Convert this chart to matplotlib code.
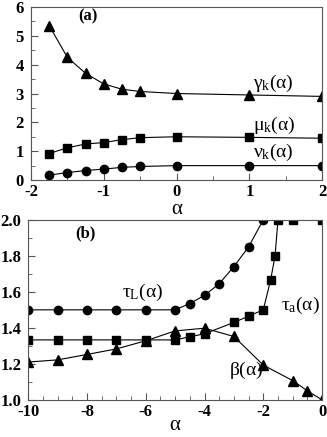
import matplotlib
matplotlib.use("Agg")
import matplotlib.pyplot as plt
from matplotlib.ticker import MultipleLocator, FormatStrFormatter

plt.rcParams['font.family'] = ['Liberation Serif', 'DejaVu Serif']
plt.rcParams['mathtext.fontset'] = 'custom'
plt.rcParams['mathtext.rm'] = 'Liberation Serif'
plt.rcParams['axes.unicode_minus'] = False

# panel (a)
alpha_a = [-1.75, -1.5, -1.25, -1.0, -0.75, -0.5, 0.0, 1.0, 2.0]
gamma_k = [5.35, 4.25, 3.7, 3.33, 3.15, 3.07, 3.0, 2.95, 2.9]
mu_k = [0.92, 1.12, 1.25, 1.3, 1.4, 1.47, 1.5, 1.48, 1.45]
nu_k = [0.17, 0.26, 0.33, 0.38, 0.44, 0.47, 0.5, 0.5, 0.5]

# panel (b)
alpha_tl = [-10, -9, -8, -7, -6, -5, -4.5, -4, -3.5, -3, -2.5, -2]
tau_L = [1.5, 1.5, 1.5, 1.5, 1.5, 1.5, 1.535, 1.58, 1.645, 1.74, 1.85, 2.0]
alpha_ta = [-10, -9, -8, -7, -6, -5, -4.5, -4, -3, -2.5, -2, -1.75, -1.6, -1.5, -1, 0]
tau_a = [1.333, 1.333, 1.333, 1.333, 1.333, 1.333, 1.35, 1.367, 1.43, 1.465,
         1.5, 1.667, 1.8, 2.0, 2.0, 2.0]
alpha_b = [-10, -9, -8, -7, -6, -5, -4, -3, -2, -1, -0.5, 0]
beta = [1.21, 1.222, 1.252, 1.283, 1.328, 1.383, 1.398, 1.352, 1.193, 1.107, 1.05, 1.0]

fig = plt.figure(figsize=(3.27, 4.37), dpi=100)
ax1 = fig.add_axes([0.095, 0.588, 0.89, 0.396])
ax2 = fig.add_axes([0.086, 0.085, 0.899, 0.412])

lw = 0.8
ms = 6
ax1.plot(alpha_a, gamma_k, 'k-^', lw=lw, ms=ms + 1)
ax1.plot(alpha_a, mu_k, 'k-s', lw=lw, ms=ms - 0.5)
ax1.plot(alpha_a, nu_k, 'k-o', lw=lw, ms=ms)
ax1.set_xlim(-2, 2)
ax1.set_ylim(0, 6)
ax1.xaxis.set_major_locator(MultipleLocator(1))
ax1.xaxis.set_minor_locator(MultipleLocator(0.5))
ax1.yaxis.set_major_locator(MultipleLocator(1))
ax1.yaxis.set_minor_locator(MultipleLocator(0.5))
ax1.text(-1.35, 5.55, '(a)', fontsize=12, fontweight='bold')
ax1.text(1.05, 3.2, r'$\mathregular{\gamma_k(\alpha)}$', fontsize=14)
ax1.text(1.05, 1.75, r'$\mathregular{\mu_k(\alpha)}$', fontsize=14)
ax1.text(1.05, 0.8, r'$\mathregular{\nu_k(\alpha)}$', fontsize=14)
ax1.set_xlabel('α', fontsize=15, labelpad=0)

ax2.plot(alpha_tl, tau_L, 'k-o', lw=lw, ms=ms)
ax2.plot(alpha_ta, tau_a, 'k-s', lw=lw, ms=ms - 0.5)
ax2.plot(alpha_b, beta, 'k-^', lw=lw, ms=ms + 1)
ax2.set_xlim(-10, 0)
ax2.set_ylim(1.0, 2.0)
ax2.xaxis.set_major_locator(MultipleLocator(2))
ax2.xaxis.set_minor_locator(MultipleLocator(0.5))
ax2.yaxis.set_major_locator(MultipleLocator(0.2))
ax2.yaxis.set_minor_locator(MultipleLocator(0.1))
ax2.yaxis.set_major_formatter(FormatStrFormatter('%.1f'))
ax2.text(-8.4, 1.9, '(b)', fontsize=12, fontweight='bold')
ax2.text(-6.8, 1.57, r'$\mathregular{\tau_L(\alpha)}$', fontsize=14)
ax2.text(-1.4, 1.5, r'$\mathregular{\tau_a(\alpha)}$', fontsize=14)
ax2.text(-3.15, 1.14, r'$\mathregular{\beta(\alpha)}$', fontsize=14)
ax2.set_xlabel('α', fontsize=15, labelpad=-3)

for ax in (ax1, ax2):
    for s in ax.spines.values():
        s.set_linewidth(0.8)
        s.set_color('#555555')
    ax.tick_params(which='both', direction='in', top=False, right=False,
                   color='#555555')
    ax.tick_params(which='major', length=5, labelsize=12)
    ax.tick_params(axis='x', which='major', pad=3)
    ax.tick_params(axis='y', which='major', pad=5)
    ax.tick_params(which='minor', length=3)

fig.canvas.draw()
for ax in (ax1, ax2):
    for lab in ax.get_xticklabels() + ax.get_yticklabels():
        lab.set_fontweight('bold')

fig.savefig('out.png', dpi=100)
